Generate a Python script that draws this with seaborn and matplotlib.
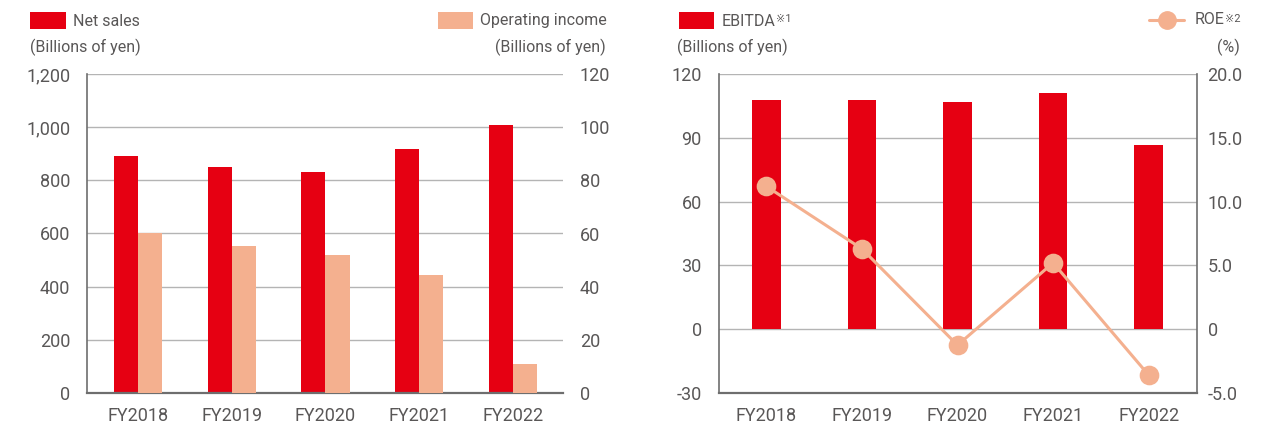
import matplotlib
matplotlib.use("Agg")
import matplotlib.pyplot as plt
from matplotlib.patches import Rectangle
from matplotlib.lines import Line2D
import seaborn as sns
import pandas as pd

years = ["FY2018", "FY2019", "FY2020", "FY2021", "FY2022"]
net_sales = [893, 852, 832, 919, 1010]
op_income = [60.2, 55.3, 52.0, 44.4, 10.9]
ebitda = [107.8, 107.8, 106.9, 111.0, 86.7]
roe = [11.2, 6.3, -1.25, 5.2, -3.6]

RED = "#E60012"
SALMON = "#F4B08F"
TXT = "#595757"
GRID = "#b4b4b4"
SPINE = "#6e6e6e"

sns.set_theme(style="white")
plt.rcParams["font.family"] = ["Roboto", "DejaVu Sans"]
plt.rcParams["axes.unicode_minus"] = False

W, H = 1268, 428
fig = plt.figure(figsize=(W / 100, H / 100), dpi=100)


def fx(x):
    return x / W


def fy(y):
    return 1 - y / H


def style_ax(ax, left=True, right=False):
    for side, sp in ax.spines.items():
        sp.set_visible(False)
    ax.spines["bottom"].set_visible(True)
    ax.spines["bottom"].set_color(SPINE)
    ax.spines["bottom"].set_linewidth(1.6)
    if left:
        ax.spines["left"].set_visible(True)
        ax.spines["left"].set_color(SPINE)
        ax.spines["left"].set_linewidth(1.2)
    if right:
        ax.spines["right"].set_visible(True)
        ax.spines["right"].set_color(SPINE)
        ax.spines["right"].set_linewidth(1.2)
    ax.grid(axis="y", color=GRID, linewidth=1.0)
    ax.set_axisbelow(True)
    ax.set_xlabel("")
    ax.set_ylabel("")
    ax.tick_params(length=0, colors=TXT, labelsize=13)


series_order = ["Net sales", "Operating income"]
df_sales = pd.DataFrame({"year": years, "value": net_sales, "series": "Net sales"})
df_op = pd.DataFrame({"year": years, "value": op_income, "series": "Operating income"})
pal = {"Net sales": RED, "Operating income": SALMON}

# ---- left chart: net sales / operating income
ax1 = fig.add_axes([fx(87), fy(393), fx(563) - fx(87), fy(74) - fy(393)])
sns.barplot(data=df_sales, x="year", y="value", hue="series", hue_order=series_order,
            palette=pal, width=0.512, dodge=True, saturation=1, errorbar=None,
            legend=False, linewidth=0, ax=ax1)
ax1b = ax1.twinx()
sns.barplot(data=df_op, x="year", y="value", hue="series", hue_order=series_order,
            palette=pal, width=0.512, dodge=True, saturation=1, errorbar=None,
            legend=False, linewidth=0, ax=ax1b)
ax1.set_ylim(0, 1200)
ax1.set_yticks(range(0, 1201, 200))
ax1.set_yticklabels([f"{v:,}" for v in range(0, 1201, 200)])
ax1b.set_ylim(0, 120)
ax1b.set_yticks(range(0, 121, 20))
style_ax(ax1)
ax1b.grid(False)
for sp in ax1b.spines.values():
    sp.set_visible(False)
ax1b.set_ylabel("")
ax1b.tick_params(length=0, colors=TXT, labelsize=13, pad=12)
ax1.tick_params(axis="y", pad=12)
ax1.tick_params(axis="x", pad=10)
ax1.set_xlim(-0.54, 4.53)

# ---- right chart: EBITDA / ROE
ax2 = fig.add_axes([fx(718.5), fy(393), fx(1196.5) - fx(718.5), fy(74) - fy(393)])
sns.barplot(x=years, y=ebitda, color=RED, width=0.3, saturation=1, linewidth=0,
            errorbar=None, ax=ax2)
ax2b = ax2.twinx()
sns.pointplot(x=years, y=roe, color=SALMON, markers="o", markersize=12.5,
              linewidth=2.2, errorbar=None, ax=ax2b)
ax2.set_ylim(-30, 120)
ax2.set_yticks(range(-30, 121, 30))
ax2b.set_ylim(-5, 20)
ax2b.set_yticks([-5, 0, 5, 10, 15, 20])
ax2b.set_yticklabels(["-5.0", "0", "5.0", "10.0", "15.0", "20.0"])
style_ax(ax2, right=True)
ax2.tick_params(axis="y", pad=12)
ax2.tick_params(axis="x", pad=10)
ax2b.grid(False)
for sp in ax2b.spines.values():
    sp.set_visible(False)
ax2b.set_ylabel("")
ax2b.tick_params(length=0, colors=TXT, labelsize=13, pad=8)
ax2.set_xlim(-0.5, 4.5)

# ---- legends / unit labels
fs = 11.5
fig.add_artist(Rectangle((fx(30), fy(29)), fx(66) - fx(30), fy(12) - fy(29),
                         transform=fig.transFigure, color=RED, lw=0))
fig.text(fx(73), fy(21), "Net sales", color=TXT, fontsize=fs, va="center")
fig.text(fx(30), fy(47), "(Billions of yen)", color=TXT, fontsize=fs, va="center")

fig.add_artist(Rectangle((fx(438), fy(29)), fx(473) - fx(438), fy(12) - fy(29),
                         transform=fig.transFigure, color=SALMON, lw=0))
fig.text(fx(607), fy(21), "Operating income", color=TXT, fontsize=fs, va="center", ha="right")
fig.text(fx(606), fy(47), "(Billions of yen)", color=TXT, fontsize=fs, va="center", ha="right")

fig.add_artist(Rectangle((fx(679), fy(29)), fx(714) - fx(679), fy(12) - fy(29),
                         transform=fig.transFigure, color=RED, lw=0))
t_eb = fig.text(fx(722), fy(21), "EBITDA", color=TXT, fontsize=fs, va="center")
ax2.annotate("※1", xy=(1, 0.62), xycoords=t_eb, color=TXT, fontsize=8,
             va="center", ha="left", annotation_clip=False)
fig.text(fx(677), fy(47), "(Billions of yen)", color=TXT, fontsize=fs, va="center")

fig.add_artist(Line2D([fx(1149), fx(1184)], [fy(20), fy(20)], transform=fig.transFigure,
                      color=SALMON, lw=2.2))
fig.add_artist(Line2D([fx(1166.5)], [fy(20)], transform=fig.transFigure, color=SALMON,
                      marker="o", markersize=12.5, lw=0))
t_m2 = fig.text(fx(1240), fy(19), "※2", color=TXT, fontsize=8, va="center", ha="right")
ax2.annotate("ROE", xy=(0, 0.4), xycoords=t_m2, color=TXT, fontsize=fs,
             va="center", ha="right", annotation_clip=False)
fig.text(fx(1240), fy(47), "(%)", color=TXT, fontsize=fs, va="center", ha="right")

fig.savefig("out.png", dpi=100)
